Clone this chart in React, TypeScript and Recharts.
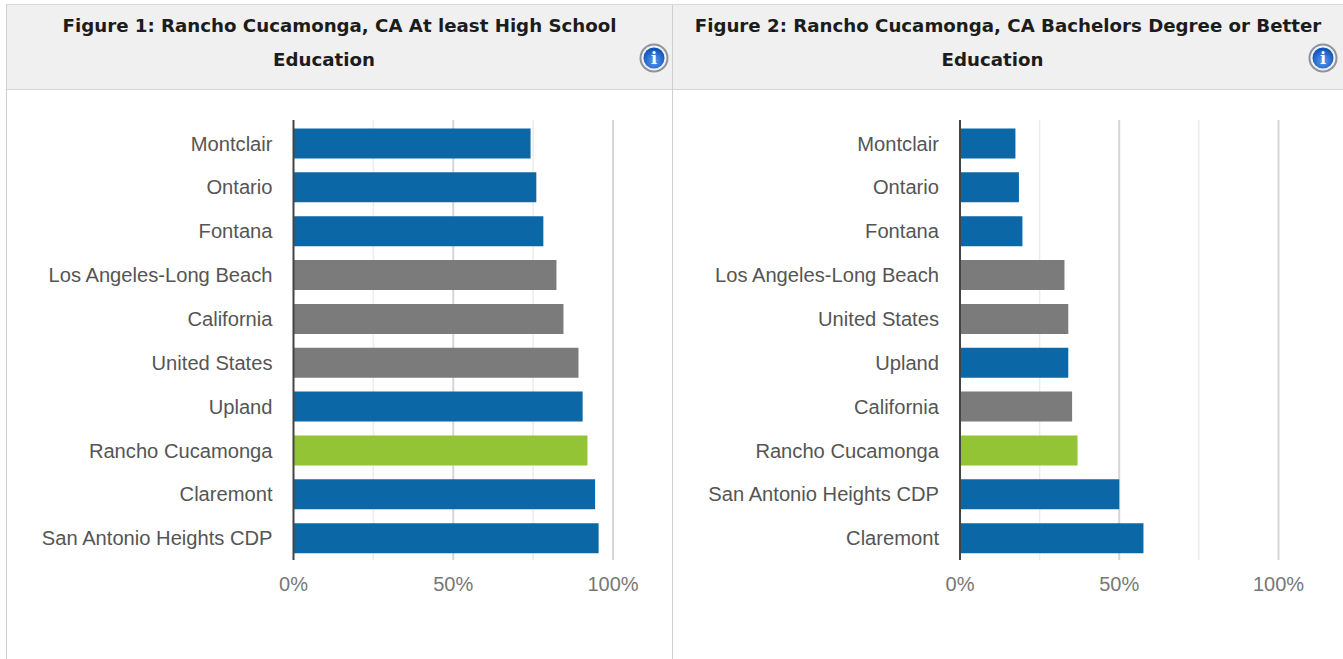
import React from "react";
import { BarChart, Bar, XAxis, YAxis, CartesianGrid, Cell, ReferenceLine } from "recharts";

const categoriesHS = ["Montclair", "Ontario", "Fontana", "Los Angeles-Long Beach", "California", "United States", "Upland", "Rancho Cucamonga", "Claremont", "San Antonio Heights CDP"];
const valuesHS = [74.2, 76, 78.2, 82.3, 84.5, 89.2, 90.5, 92, 94.4, 95.5];
const categoriesBA = ["Montclair", "Ontario", "Fontana", "Los Angeles-Long Beach", "United States", "Upland", "California", "Rancho Cucamonga", "San Antonio Heights CDP", "Claremont"];
const valuesBA = [17.4, 18.5, 19.6, 32.8, 34, 34, 35.2, 36.9, 50, 57.6];
const benchmarks = ["Los Angeles-Long Beach", "California", "United States"];
const focus = "Rancho Cucamonga";
const axisTicks = [0, 25, 50, 75, 100];
const titleHS = ["Figure 1: Rancho Cucamonga, CA At least High School", "Education"];
const titleBA = ["Figure 2: Rancho Cucamonga, CA Bachelors Degree or Better", "Education"];

const colorFor = (name: string) =>
  name === focus ? "#92c435" : benchmarks.includes(name) ? "#7b7b7b" : "#0b67a5";

const FONT = "'Liberation Sans', Arial, sans-serif";

function InfoIcon({ left, id }: { left: number; id: string }) {
  return (
    <svg width={30} height={30} style={{ position: "absolute", left, top: 38 }}>
      <defs>
        <radialGradient id={id} cx="50%" cy="65%" r="60%">
          <stop offset="0%" stopColor="#5a9cf0" />
          <stop offset="100%" stopColor="#0f52b8" />
        </radialGradient>
      </defs>
      <circle cx={15} cy={15} r={14.5} fill="#8f9399" />
      <circle cx={15} cy={15} r={12.5} fill="#eef1f6" />
      <circle cx={15} cy={15} r={10.5} fill={`url(#${id})`} />
      <text x={15} y={21} textAnchor="middle" fontFamily="'DejaVu Serif', serif" fontWeight="bold" fontSize={16} fill="#ffffff">i</text>
    </svg>
  );
}

function Panel({ left, width, title, categories, values, plotLeft, plotRight, iconLeft, id }: any) {
  const data = categories.map((name: string, i: number) => ({ name, value: values[i] }));
  return (
    <div style={{ position: "absolute", left, top: 4, width, height: 700, boxSizing: "border-box", borderTop: "1px solid #d8d8d8", borderLeft: "1px solid #cfcfcf" }}>
      <div style={{ height: 80, background: "#f0f0f0", borderBottom: "1px solid #d4d4d4", textAlign: "center", fontFamily: "'DejaVu Sans', sans-serif", fontWeight: 700, fontSize: 18.2, lineHeight: "33.5px", color: "#1c1c1c", paddingTop: 4, whiteSpace: "nowrap" }}>
        <div>{title[0]}</div>
        <div style={{ paddingRight: 31 }}>{title[1]}</div>
      </div>
      <BarChart
        width={666}
        height={570}
        data={data}
        layout="vertical"
        barCategoryGap={0}
        margin={{ top: 30, right: 666 - plotRight, bottom: 55, left: 0 }}
      >
        <CartesianGrid horizontal={false} verticalValues={[25, 75]} stroke="#ececec" strokeWidth={1.5} />
        <CartesianGrid horizontal={false} verticalValues={[50, 100]} stroke="#d6d6d6" strokeWidth={2} />
        <XAxis
          type="number"
          domain={[0, 100]}
          ticks={axisTicks}
          interval={0}
          axisLine={false}
          tickLine={false}
          height={45}
          tickMargin={11}
          tickFormatter={(v: number) => (v % 50 === 0 ? `${v}%` : "")}
          tick={{ fill: "#777777", fontSize: 20, fontFamily: FONT }}
        />
        <YAxis
          type="category"
          dataKey="name"
          width={plotLeft}
          interval={0}
          axisLine={false}
          tickLine={false}
          tickSize={0}
          tickMargin={21}
          padding={{ top: 1.5, bottom: 0 }}
          tick={{ fill: "#555555", fontSize: 20.15, fontFamily: FONT }}
        />
        <Bar dataKey="value" barSize={30} isAnimationActive={false}>
          {data.map((d: any) => (
            <Cell key={d.name} fill={colorFor(d.name)} />
          ))}
        </Bar>
        <ReferenceLine x={0} stroke="#444444" strokeWidth={2} />
      </BarChart>
      <InfoIcon left={iconLeft} id={id} />
    </div>
  );
}

export default function App() {
  return (
    <div style={{ position: "absolute", left: 0, top: 0, width: 1343, height: 659, overflow: "hidden", background: "#ffffff" }}>
      <Panel left={6} width={666} title={titleHS} categories={categoriesHS} values={valuesHS} plotLeft={286.5} plotRight={606} iconLeft={632} id="infoA" />
      <Panel left={672} width={671} title={titleBA} categories={categoriesBA} values={valuesBA} plotLeft={287} plotRight={605.5} iconLeft={635} id="infoB" />
    </div>
  );
}
